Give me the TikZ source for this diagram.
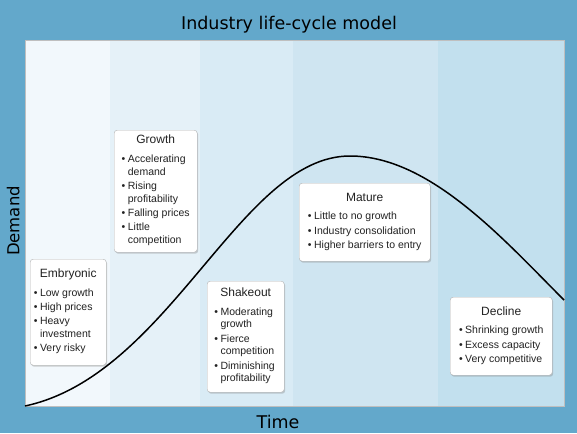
\documentclass[tikz,border=0pt]{standalone}
\usepackage{fontspec}
\setmainfont{Liberation Sans}
\newfontfamily\achsenfont{DejaVu Sans}
\usepackage{tikz}
\usetikzlibrary{shadows}

\definecolor{rahmen}{RGB}{99,168,203}
\definecolor{bandA}{RGB}{242,248,252}
\definecolor{bandB}{RGB}{229,241,248}
\definecolor{bandC}{RGB}{217,235,245}
\definecolor{bandD}{RGB}{207,229,241}
\definecolor{bandE}{RGB}{194,224,238}
\definecolor{schrift}{RGB}{34,34,34}

\newcommand{\pkt}{\textbullet}
\newcommand{\kopf}[1]{\multicolumn{2}{c}{\fontsize{12}{14}\selectfont #1}\\[6pt]}

\tikzset{
  phase/.style={draw=black!30, fill=white, rounded corners=3pt, anchor=north west,
    inner sep=0pt, text=schrift, font=\fontsize{10.5}{12.7}\selectfont,
    drop shadow={shadow xshift=1pt, shadow yshift=-1.5pt, opacity=0.35}},
  achse/.style={font=\achsenfont\fontsize{17.5}{20}\selectfont, inner sep=0pt},
  kurve/.style={line width=1.5pt, black}
}

\begin{document}
\begin{tikzpicture}[x=1pt, y=-1pt]
    % Hintergrund
    \useasboundingbox (0,0) rectangle (577,433);
    \fill[rahmen] (0,0) rectangle (577,433);

    % Phasenbänder
    \fill[bandA] (25,40) rectangle (110,406);
    \fill[bandB] (110,40) rectangle (200,406);
    \fill[bandC] (200,40) rectangle (293,406);
    \fill[bandD] (293,40) rectangle (438,406);
    \fill[bandE] (438,40) rectangle (564,406);
    \draw[black!25, line width=0.6pt] (25,40) rectangle (564,406);

    % Beschriftung
    \node[achse, anchor=base] (titel) at (289,30) {Industry life-cycle model};
    \node[achse, anchor=base] (zeit) at (278,428) {Time};
    \node[achse, font=\achsenfont\fontsize{16.5}{20}\selectfont, anchor=base, rotate=90] (nachfrage) at (19.5,221) {Demand};

    % Lebenszykluskurve
    \coordinate (start) at (25,406);
    \coordinate (gipfel) at (350,156);
    \coordinate (ende) at (564,300);
    \draw[kurve] (start) .. controls (170,375) and (240,156) .. (gipfel)
                         .. controls (430,156) and (504,240) .. (ende);

    % Phasen
    \node[phase, minimum width=76, minimum height=106] (embryo) at (30,259) {%
      \begin{tabular}{@{}l@{\hspace{2.5pt}}l@{}}
        \kopf{Embryonic}
        \pkt & Low growth\\[1.6pt]
        \pkt & High prices\\[1.6pt]
        \pkt & Heavy\\ & investment\\[1.6pt]
        \pkt & Very risky
      \end{tabular}};

    \node[phase, minimum width=83, minimum height=122] (wachstum) at (114,130) {%
      \begin{tabular}{@{}l@{\hspace{2.5pt}}l@{}}
        \kopf{Growth}
        \pkt & Accelerating\\ & demand\\[1.6pt]
        \pkt & Rising\\ & profitability\\[1.6pt]
        \pkt & Falling prices\\[1.6pt]
        \pkt & Little\\ & competition
      \end{tabular}};

    \node[phase, minimum width=77, minimum height=111] (shakeout) at (207,281) {%
      \begin{tabular}{@{}l@{\hspace{2.5pt}}l@{}}
        \kopf{Shakeout}
        \pkt & Moderating\\ & growth\\[1.6pt]
        \pkt & Fierce\\ & competition\\[1.6pt]
        \pkt & Diminishing\\ & profitability
      \end{tabular}};

    \node[phase, minimum width=131, minimum height=78] (reife) at (299,183) {%
      \begin{tabular}{@{}l@{\hspace{2.5pt}}l@{}}
        \kopf{Mature}
        \pkt & Little to no growth\\[1.6pt]
        \pkt & Industry consolidation\\[1.6pt]
        \pkt & Higher barriers to entry
      \end{tabular}};

    \node[phase, minimum width=102, minimum height=78] (niedergang) at (450,297) {%
      \begin{tabular}{@{}l@{\hspace{2.5pt}}l@{}}
        \kopf{Decline}
        \pkt & Shrinking growth\\[1.6pt]
        \pkt & Excess capacity\\[1.6pt]
        \pkt & Very competitive
      \end{tabular}};
\end{tikzpicture}
\end{document}
